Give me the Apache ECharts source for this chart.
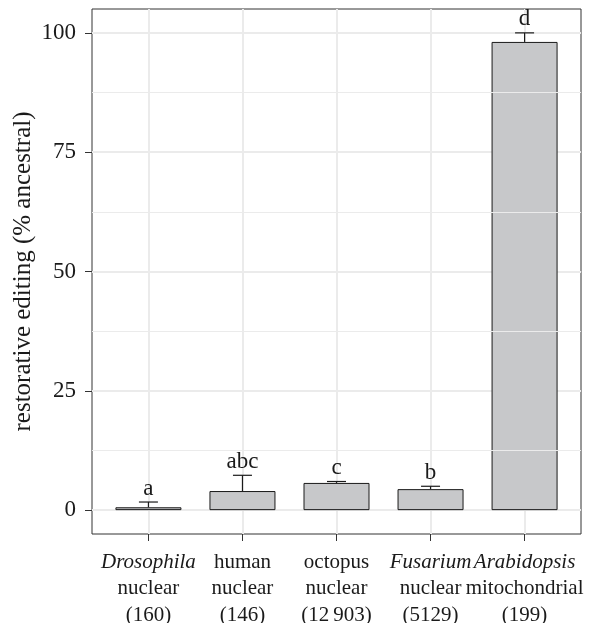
<!DOCTYPE html>
<html>
<head>
<meta charset="utf-8">
<script src="https://cdn.jsdelivr.net/npm/echarts@6/dist/echarts.min.js"></script>
<style>
	html, body { margin: 0; padding: 0; background: #fff; }
	#chart { width: 594px; height: 623px; }
</style>
</head>
<body>
<div id="chart"></div>
<script>
// categories (first line of label, italic flag, second line, n)
const genus = ['Drosophila', 'human', 'octopus', 'Fusarium', 'Arabidopsis'];
const italicGenus = [true, false, false, true, true];
const compartment = ['nuclear', 'nuclear', 'nuclear', 'nuclear', 'mitochondrial'];
const counts = ['(160)', '(146)', '(12\u2009903)', '(5129)', '(199)'];
// restorative editing means and upper error bar ends
const means = [0.6, 4.0, 5.7, 4.4, 98.1];
const upper = [1.7, 7.3, 6.0, 5.0, 100.0];
const letters = ['a', 'abc', 'c', 'b', 'd'];
const yTicks = [0, 25, 50, 75, 100];
const yMinor = [12.5, 37.5, 62.5, 87.5];
const xPos = [1, 2, 3, 4, 5];

const serif = '"Liberation Serif", "DejaVu Serif", serif';
const chart = echarts.init(document.getElementById('chart'));

const gridLineCol = '#EBEBEB';

const catLabel = function (v) {
	const i = Math.round(v) - 1;
	const g = italicGenus[i] ? '{i|' + genus[i] + '}' : '{n|' + genus[i] + '}';
	return g + '\n{n|' + compartment[i] + '}\n{n|' + counts[i] + '}';
};
const labelRich = {
	i: { fontFamily: serif, fontSize: 21, fontStyle: 'italic', color: '#1a1a1a', lineHeight: 26.5 },
	n: { fontFamily: serif, fontSize: 21, color: '#1a1a1a', lineHeight: 26.5 }
};

// labels split over two axes so the wide neighbours are not hidden as overlapping
const xAxisFor = function (vals, main) {
	return {
		type: 'value',
		position: 'bottom',
		min: 0.4, max: 5.6,
		axisLine: { show: false, onZero: false },
		axisTick: { show: main, customValues: xPos, length: 7, lineStyle: { color: '#333', width: 1 } },
		splitLine: { show: main, lineStyle: { color: gridLineCol, width: 2 } },
		axisLabel: {
			customValues: vals,
			hideOverlap: false,
			margin: 15,
			formatter: catLabel,
			rich: labelRich
		}
	};
};

const option = {
	animation: false,
	grid: {
		left: 92, right: 13, top: 9, bottom: 89,
		outerBoundsMode: 'none',
		containLabel: false,
		show: true, borderColor: '#333', borderWidth: 1,
		backgroundColor: 'transparent'
	},
	xAxis: [xAxisFor([1, 3, 5], true), xAxisFor([2, 4], false)],
	yAxis: {
		type: 'value',
		min: -5, max: 105,
		name: 'restorative editing (% ancestral)',
		nameLocation: 'middle',
		nameGap: 56,
		nameMoveOverlap: false,
		nameTextStyle: { fontFamily: serif, fontSize: 25, color: '#1a1a1a' },
		axisLine: { show: false, onZero: false },
		axisTick: { show: true, customValues: yTicks, length: 7, lineStyle: { color: '#333', width: 1 } },
		splitLine: { show: true, lineStyle: { color: gridLineCol, width: 2 } },
		axisLabel: {
			customValues: yTicks,
			margin: 16,
			fontFamily: serif, fontSize: 23, color: '#1a1a1a'
		}
	},
	series: [
		{
			// minor horizontal grid lines
			type: 'line',
			data: [],
			z: 1,
			silent: true,
			markLine: {
				silent: true,
				symbol: 'none',
				label: { show: false },
				lineStyle: { color: gridLineCol, width: 1, type: 'solid' },
				data: yMinor.map(v => ({ yAxis: v }))
			}
		},
		{
			type: 'bar',
			data: xPos.map((x, i) => [x, means[i]]),
			barWidth: 66,
			z: 3,
			itemStyle: { color: '#C7C8CA', borderColor: '#1a1a1a', borderWidth: 1 }
		},
		{
			type: 'custom',
			z: 4,
			data: xPos.map((x, i) => [x, means[i], upper[i]]),
			renderItem: function (params, api) {
				const i = params.dataIndex;
				const base = api.coord([api.value(0), api.value(1)]);
				const top = api.coord([api.value(0), api.value(2)]);
				const hw = 9.5;
				const st = { stroke: '#1a1a1a', lineWidth: 1.2 };
				return {
					type: 'group',
					children: [
						{ type: 'line', shape: { x1: base[0], y1: base[1], x2: top[0], y2: top[1] }, style: st },
						{ type: 'line', shape: { x1: top[0] - hw, y1: top[1], x2: top[0] + hw, y2: top[1] }, style: st },
						{
							type: 'text',
							x: top[0], y: top[1] - 2,
							style: {
								text: letters[i],
								fontFamily: serif, fontSize: 23, fill: '#1a1a1a',
								align: 'center', verticalAlign: 'bottom'
							}
						}
					]
				};
			}
		}
	]
};

chart.setOption(option);
</script>
</body>
</html>
